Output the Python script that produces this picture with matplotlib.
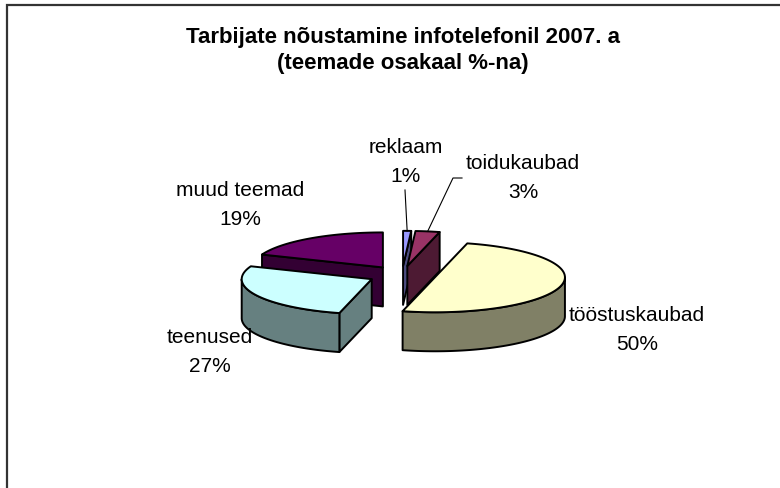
import numpy as np
import matplotlib
matplotlib.use("Agg")
from matplotlib import pyplot as plt
from matplotlib.patches import Polygon

plt.rcParams['font.family'] = ['Liberation Sans', 'DejaVu Sans']

# data
topics = ['reklaam', 'toidukaubad', 'tööstuskaubad', 'teenused', 'muud teemad']
shares = [1, 3, 50, 27, 19]
colors = ['#9999FF', '#993366', '#FFFFCC', '#CCFFFF', '#660066']
title = 'Tarbijate nõustamine infotelefonil 2007. a\n(teemade osakaal %-na)'

# layout (pixels, y down)
cx, cy = 402, 275        # pie centre
R, ry = 130, 35          # ellipse radii
depth = 39               # slice thickness
explode = 34             # distance of each slice from the centre
label_xy = [(406, 162), (523, 178), (637, 330), (210, 352), (240, 205)]
leader_from = {0: [(405, 190)], 1: [(462, 178), (453, 178)]}


def darken(c, f=0.5):
    r, g, b = matplotlib.colors.to_rgb(c)
    return (r * f, g * f, b * f)


def rim(x0, y0, theta, dy=0):
    t = np.radians(theta)
    return x0 + R * np.sin(t), y0 - ry * np.cos(t) + dy


fig = plt.figure(figsize=(7.8, 4.88), dpi=100)
ax = fig.add_axes([0, 0, 1, 1])
ax.set_xlim(0, 780)
ax.set_ylim(488, 0)
ax.axis('off')

# chart frame (only left and top edge fall inside the picture)
ax.plot([7, 7, 800], [500, 5, 5], color='#333333', lw=1.6, solid_joinstyle='miter')

total = sum(shares)
bounds = np.concatenate([[0], np.cumsum(shares)]) / total * 360
slices = []
for i, (a0, a1) in enumerate(zip(bounds[:-1], bounds[1:])):
    mid = np.radians((a0 + a1) / 2)
    sx = cx + explode * np.sin(mid)
    sy = cy - explode * ry / R * np.cos(mid)
    slices.append((sy, i, a0, a1, sx))

lw = 1.4
for sy, i, a0, a1, sx in sorted(slices):
    col = colors[i]
    side = darken(col)
    # radial faces facing the viewer
    for ang, vis in ((a0, np.sin(np.radians(a0)) < -1e-9), (a1, np.sin(np.radians(a1)) > 1e-9)):
        if vis:
            px, py = rim(sx, sy, ang)
            ax.add_patch(Polygon([(sx, sy), (px, py), (px, py + depth), (sx, sy + depth)],
                                 closed=True, fc=side, ec='black', lw=lw, joinstyle='round'))
    # outer wall, front part only
    w0, w1 = max(a0, 90), min(a1, 270)
    if w1 > w0:
        th = np.linspace(w0, w1, 80)
        top = [rim(sx, sy, t) for t in th]
        bot = [rim(sx, sy, t, depth) for t in th[::-1]]
        ax.add_patch(Polygon(top + bot, closed=True, fc=side, ec='black', lw=lw, joinstyle='round'))
    # top face
    th = np.linspace(a0, a1, max(int(a1 - a0) * 2, 4))
    pts = [(sx, sy)] + [rim(sx, sy, t) for t in th]
    ax.add_patch(Polygon(pts, closed=True, fc=col, ec='black', lw=lw, joinstyle='round'))

# labels
for i, (name, val) in enumerate(zip(topics, shares)):
    lx, ly = label_xy[i]
    ax.text(lx, ly - 14.5, name, ha='center', va='center', fontsize=15, color='black')
    ax.text(lx, ly + 14.5, f'{val}%', ha='center', va='center', fontsize=15, color='black')
    if i in leader_from:
        sy, _, a0, a1, sx = [s for s in slices if s[1] == i][0]
        ex, ey = rim(sx, sy, (a0 + a1) / 2)
        pts = leader_from[i] + [(ex, ey)]
        ax.plot([p[0] for p in pts], [p[1] for p in pts], color='black', lw=0.8)

for k, line in enumerate(title.split('\n')):
    ax.text(403, 38 + 25 * k, line, ha='center', va='center', fontsize=16,
            fontweight='bold', color='black')

plt.savefig('out.png', dpi=100)
